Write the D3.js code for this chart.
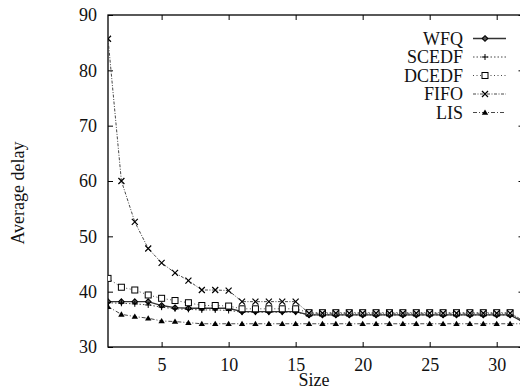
<!DOCTYPE html>
<html>
<head>
<meta charset="utf-8">
<script src="https://cdn.jsdelivr.net/npm/d3@7"></script>
<style>
  html, body { margin: 0; padding: 0; background: #fff; }
  svg text { font-family: "Liberation Serif", "DejaVu Serif", serif; fill: #111; }
</style>
</head>
<body>
<svg id="chart" width="520" height="390"></svg>
<script>
// x values (size) and series
const sizes = d3.range(1, 33);

const wfq = [38.2, 38.2, 38.2, 38.2, 37.5, 37.1, 37.0, 37.0, 37.0, 37.0,
  36.4, 36.4, 36.4, 36.4, 36.4, 35.8, 35.8, 35.8, 35.8, 35.8,
  35.8, 35.8, 35.8, 35.8, 35.8, 35.8, 35.8, 35.8, 35.8, 35.8, 35.8, 34.5];
const scedf = [38.0, 37.9, 37.8, 37.6, 37.2, 36.9, 36.8, 36.7, 36.7, 36.6,
  36.3, 36.3, 36.3, 36.3, 36.3, 35.8, 35.8, 35.8, 35.8, 35.8,
  35.8, 35.8, 35.8, 35.8, 35.8, 35.8, 35.8, 35.8, 35.8, 35.8, 35.8, 34.5];
const dcedf = [42.4, 40.8, 40.3, 39.4, 38.8, 38.4, 38.0, 37.5, 37.5, 37.4,
  36.9, 36.9, 36.9, 36.9, 36.9, 36.2, 36.2, 36.2, 36.2, 36.2,
  36.2, 36.2, 36.2, 36.2, 36.2, 36.2, 36.2, 36.2, 36.2, 36.2, 36.2, 34.7];
const fifo = [85.7, 60.0, 52.6, 47.8, 45.2, 43.4, 42.0, 40.3, 40.3, 40.2,
  38.2, 38.2, 38.2, 38.2, 38.2, 36.1, 36.1, 36.1, 36.1, 36.1,
  36.1, 36.1, 36.1, 36.1, 36.1, 36.1, 36.1, 36.1, 36.1, 36.1, 36.1, 34.7];
const lis = [37.3, 35.9, 35.5, 35.2, 34.7, 34.6, 34.4, 34.2, 34.2, 34.2,
  34.2, 34.2, 34.2, 34.2, 34.2, 34.2, 34.2, 34.2, 34.2, 34.2,
  34.2, 34.2, 34.2, 34.2, 34.2, 34.2, 34.2, 34.2, 34.2, 34.2, 34.2, 34.2];

const seriesNames = ["WFQ", "SCEDF", "DCEDF", "FIFO", "LIS"];
const seriesValues = [wfq, scedf, dcedf, fifo, lis];
const xTicks = [5, 10, 15, 20, 25, 30];
const yTicks = [30, 40, 50, 60, 70, 80, 90];

// line style + marker per series
const styles = {
  WFQ:   { dash: null,          marker: "diamond" },
  SCEDF: { dash: "1.5,2",       marker: "plus" },
  DCEDF: { dash: "1,2.5",       marker: "square" },
  FIFO:  { dash: "3,1.5,1,1.5", marker: "cross" },
  LIS:   { dash: "4,2,1,2",     marker: "triangle" }
};

const svg = d3.select("#chart");
const plotLeft = 108, plotRight = 523.5, plotTop = 15, plotBottom = 347;

const x = d3.scaleLinear().domain([1, 32]).range([plotLeft, plotRight]);
const y = d3.scaleLinear().domain([30, 90]).range([plotBottom, plotTop]);

// frame
svg.append("rect")
  .attr("x", plotLeft).attr("y", plotTop)
  .attr("width", plotRight - plotLeft).attr("height", plotBottom - plotTop)
  .attr("fill", "none").attr("stroke", "#000").attr("stroke-width", 1.3);

// axes with inward ticks
const tick = 5;
svg.append("g")
  .attr("transform", `translate(0,${plotBottom})`)
  .call(d3.axisBottom(x).tickValues(xTicks).tickSize(-tick).tickPadding(11))
  .call(g => g.select(".domain").remove())
  .call(g => g.selectAll("text").attr("font-size", 18));
svg.append("g")
  .attr("transform", `translate(0,${plotTop})`)
  .call(d3.axisTop(x).tickValues(xTicks).tickSize(-tick).tickFormat(""))
  .call(g => g.select(".domain").remove());
svg.append("g")
  .attr("transform", `translate(${plotLeft},0)`)
  .call(d3.axisLeft(y).tickValues(yTicks).tickSize(-tick).tickPadding(11))
  .call(g => g.select(".domain").remove())
  .call(g => g.selectAll("text").attr("font-size", 18));
svg.append("g")
  .attr("transform", `translate(${plotRight},0)`)
  .call(d3.axisRight(y).tickValues(yTicks).tickSize(-tick).tickFormat(""))
  .call(g => g.select(".domain").remove());

// axis titles
svg.append("text")
  .attr("x", (plotLeft + 520) / 2).attr("y", 386)
  .attr("text-anchor", "middle").attr("font-size", 18)
  .text("Size");
svg.append("text")
  .attr("transform", "translate(24,193) rotate(-90)")
  .attr("text-anchor", "middle").attr("font-size", 18)
  .text("Average delay");

svg.append("clipPath").attr("id", "plot")
  .append("rect").attr("x", plotLeft).attr("y", plotTop)
  .attr("width", plotRight - plotLeft).attr("height", plotBottom - plotTop);

function drawMarker(g, type, cx, cy) {
  if (type === "diamond") {
    g.append("path").attr("d", `M${cx},${cy - 2.8}L${cx + 2.8},${cy}L${cx},${cy + 2.8}L${cx - 2.8},${cy}Z`)
      .attr("fill", "#555").attr("stroke", "#000").attr("stroke-width", 1.1);
  } else if (type === "plus") {
    g.append("path").attr("d", `M${cx - 3},${cy}H${cx + 3}M${cx},${cy - 3}V${cy + 3}`)
      .attr("stroke", "#000").attr("stroke-width", 1);
  } else if (type === "square") {
    g.append("rect").attr("x", cx - 3).attr("y", cy - 3).attr("width", 6).attr("height", 6)
      .attr("fill", "#fff").attr("stroke", "#000").attr("stroke-width", 1);
  } else if (type === "cross") {
    g.append("path").attr("d", `M${cx - 3},${cy - 3}L${cx + 3},${cy + 3}M${cx + 3},${cy - 3}L${cx - 3},${cy + 3}`)
      .attr("stroke", "#000").attr("stroke-width", 1.2);
  } else {
    g.append("path").attr("d", `M${cx},${cy - 3}L${cx + 3.2},${cy + 2.3}L${cx - 3.2},${cy + 2.3}Z`)
      .attr("fill", "#000");
  }
}

const line = d3.line().x((d, i) => x(sizes[i])).y(d => y(d));
const plot = svg.append("g").attr("clip-path", "url(#plot)");

seriesNames.forEach((name, k) => {
  const vals = seriesValues[k];
  const st = styles[name];
  plot.append("path")
    .datum(vals)
    .attr("d", line)
    .attr("fill", "none")
    .attr("stroke", "#333")
    .attr("stroke-width", name === "WFQ" ? 1.3 : 0.9)
    .attr("stroke-dasharray", st.dash);
  const mg = plot.append("g");
  vals.forEach((v, i) => {
    if (sizes[i] < 32) drawMarker(mg, st.marker, x(sizes[i]), y(v));
  });
});

// legend
const legend = svg.append("g");
seriesNames.forEach((name, k) => {
  const ly = 38.5 + k * 18.5;
  const st = styles[name];
  legend.append("text")
    .attr("x", 463).attr("y", ly).attr("dy", "0.35em")
    .attr("text-anchor", "end").attr("font-size", 18)
    .text(name);
  legend.append("line")
    .attr("x1", 473).attr("x2", 506).attr("y1", ly).attr("y2", ly)
    .attr("stroke", "#333").attr("stroke-width", name === "WFQ" ? 1.3 : 0.9)
    .attr("stroke-dasharray", st.dash);
  drawMarker(legend, st.marker, 485, ly);
});
</script>
</body>
</html>
